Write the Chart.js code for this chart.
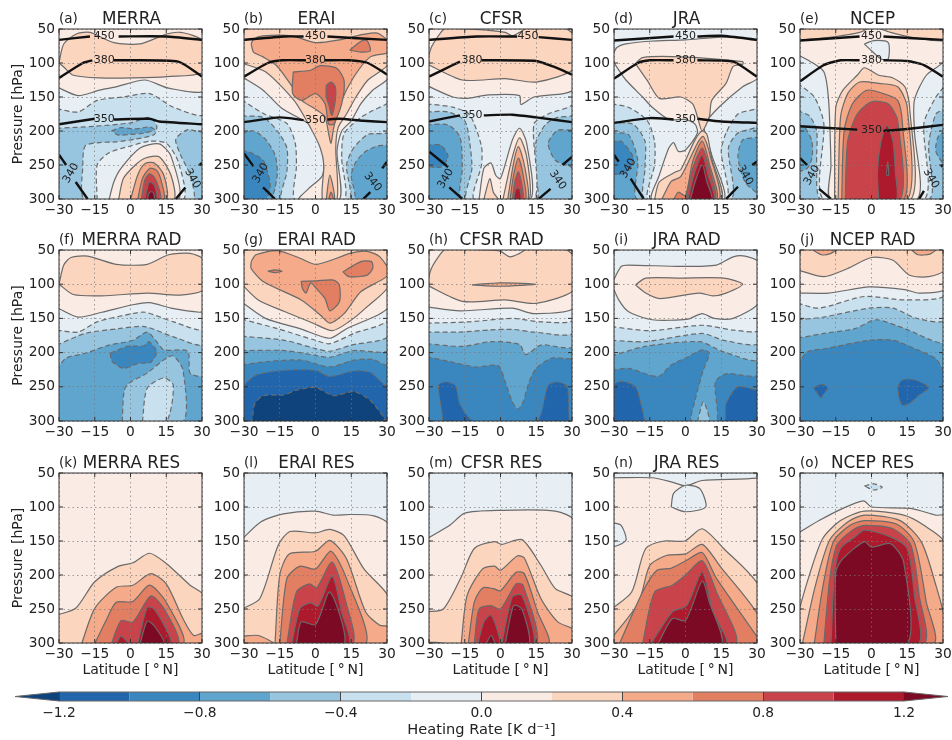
<!DOCTYPE html>
<html>
<head>
<meta charset="utf-8">
<script src="https://cdn.jsdelivr.net/npm/chart.js@4/dist/chart.umd.min.js"></script>
<style>
html, body { margin: 0; background: #fff; }
#page { position: relative; width: 952px; height: 740px; overflow: hidden; }
canvas { position: absolute; filter: blur(0.35px); }
</style>
</head>
<body>
<div id="page"></div>
<script>
// heating rate bands, lower edge of each band [K/d]
const bandLevels = [-1.4, -1.2, -1.0, -0.8, -0.6, -0.4, -0.2, 0, 0.2, 0.4, 0.6, 0.8, 1.0, 1.2];
const bandColors = ['#0f437b', '#2166ac', '#3a87bf', '#5fa5cd', '#97c5df', '#c9e0ee', '#e8eff4',
    '#faece4', '#fcd5bf', '#f5aa89', '#e27f63', '#c9444a', '#ae1a2d', '#7d0a25'];
const colorbarTicks = [-1.2, -0.8, -0.4, 0, 0.4, 0.8, 1.2];

const titles = ['MERRA', 'ERAI', 'CFSR', 'JRA', 'NCEP',
    'MERRA RAD', 'ERAI RAD', 'CFSR RAD', 'JRA RAD', 'NCEP RAD',
    'MERRA RES', 'ERAI RES', 'CFSR RES', 'JRA RES', 'NCEP RES'];
const tags = ['(a)', '(b)', '(c)', '(d)', '(e)', '(f)', '(g)', '(h)', '(i)', '(j)', '(k)', '(l)', '(m)', '(n)', '(o)'];

// band painted under everything else in each panel
const baseBands = [-0.6, -0.8, -0.8, -0.8, -0.6, -0.8, -1.4, -1.2, -1.2, -1.0, 0, -0.2, -0.2, 0, -0.2];

// contours: [level, [lat, hPa, lat, hPa, ...], hole]
// level = region above that contour, hole = region below it, painted in order
const merraDyn = [
    [-0.4, [-31,196, -15,193, 0,188, 8,180, 11,192, 10,205, 2,212, -6,216, -13,217, -19,222, -20,250, -19,301, 26,301, 25,265, 21,235, 19,212, 24,198, 31,200, 31,49, -31,49]],
    [-0.6, [-8,200, -4,195, 2,197, 8,194, 10,198, 6,203, 0,205, -5,206], 1],
    [-0.2, [-31,167, -22,172, -14,155, -3,150, 8,145, 18,165, 31,175, 31,49, -31,49]],
    [-0.2, [-14,301, -14,250, -9,232, 0,222, 8,215, 15,218, 20,245, 22,301]],
    [0, [-31,135, -22,148, -13,140, -6,135, 6,125, 16,137, 31,140, 31,49, -31,49]],
    [0, [-9,301, -7,275, -4,255, 4,225, 12,219, 17,237, 20,301]],
    [0.2, [-30,100, -28,72, -22.5,57, -17,55, -7,70, 4,72, 15.5,57, 21,55, 28,62, 31,70, 31,113, 15.5,120, 1,122, -13,122, -24,118, -28,106]],
    [0.2, [-5,301, -3,270, 2,250, 6,240, 12,238, 17,265, 18,301]],
    [0.4, [0,301, 3,265, 6,248, 10,247, 14,265, 15,301]],
    [0.6, [3,301, 5,270, 8,255, 11,258, 13,275, 14,301]],
    [0.8, [4.5,301, 6,272, 8,263, 10,268, 12,285, 12.5,301]],
    [1.0, [6,301, 7,285, 8,275, 10,280, 11,301]],
    [1.2, [7,301, 8,290, 9.5,290, 10,301]]
];
const eraiDyn = [
    [-0.8, [-31,228, -27,232, -22,243, -20,262, -19,280, -21,301, -31,301], 1],
    [-0.6, [-31,203, -26,200, -21,212, -17,235, -16,260, -17,285, -18,301, 16,301, 15,265, 17,245, 21,230, 26,222, 31,218, 31,49, -31,49]],
    [-0.4, [-31,178, -22,180, -16,200, -12,225, -12,260, -14,301, 14,301, 13,250, 16,225, 22,205, 31,200, 31,49, -31,49]],
    [-0.2, [-31,154, -22,174, -12,189, -8.5,218, -8,252, -8.5,301, 12,301, 11,240, 12,204, 19,180, 24,170, 31,155, 31,49, -31,49]],
    [0, [-31,120, -22,140, -14,167, -3,189, 1,206, 3,228, 3,265, -3,285, -7,301, 10,301, 9,230, 11,200, 15,185, 19,160, 24,140, 31,120, 31,49, -31,49]],
    [0.2, [-31,100, -21,113, -9,155, -2,196, 2,225, 3.5,250, 3,301, 9,301, 8.5,225, 9.5,195, 13,175, 17,150, 22,125, 31,100, 31,49, -31,49]],
    [0.4, [-27,72, -26,65, -22,60, -10,60, 0,70, 10,66, 20,58, 26,56, 31,70, 31,84, 23,91, 16,121, 10.4,160, 7.6,196, 6.5,218, 5.5,204, 4,179, 0.5,169, -5.8,155, -10.7,130, -16.3,104, -22,91, -26,84]],
    [0.4, [4.5,301, 6,265, 8,301]],
    [0.6, [5.5,301, 6.5,290, 7.5,301]],
    [0.6, [-9.3,113, -9.6,145, -5.8,155, 0,145, 4,160, 5.5,190, 7.6,190, 11,160, 12,126, 9,108, 2,104, -2.3,111]],
    [0.6, [14.4,81, 19.6,67, 21.7,67, 23,82, 19,84]],
    [0.8, [4.5,133, 6.5,128, 8.3,135, 8.3,155, 6.9,177, 5.5,160, 4.5,150]]
];
const cfsrDyn = [
    [-0.8, [-31,221, -25,221, -22,238, -25,253, -31,250], 1],
    [-0.6, [-31,191, -22,191, -17,209, -16,253, -16,301, 31,301, 31,257, 23,243, 20,218, 24,199, 31,196, 31,49, -31,49]],
    [-0.4, [-31,172, -22,172, -15,185, -13,215, -12,255, -14,301, 15,301, 14,250, 15,215, 19,190, 24,180, 31,175, 31,49, -31,49]],
    [-0.2, [-31,160, -20,165, -13,176, -8,222, -8,250, -11,301, 14,301, 14,190, 20,175, 31,158, 31,49, -31,49]],
    [0, [-31,133, -20,150, -14,152, -5,147, 8,148, 8.5,161, 14,150, 31,138, 31,49, -31,49]],
    [0, [-9,301, -7,255, -4,247, -2,265, 0,270, 5,213, 8,196, 11,218, 12.5,301]],
    [0.2, [-31,101, -29,77, -25,55, -23,49, -5,52, 2,55, 5,60, 8,55, 11,49, 27,49, 31,61, 31,108, 15,128, 2,123, -16,125]],
    [0.2, [-7,301, -4.5,270, -3,290, -1,301]],
    [0.2, [1,301, 5,238, 8,210, 11,238, 12,301]],
    [0.4, [3,301, 5.5,247, 7.5,223, 10,250, 11.5,301]],
    [0.6, [4,301, 5.5,265, 7.5,240, 9.5,265, 10.5,301]],
    [0.8, [5,301, 6,275, 7.5,260, 9,280, 9.5,301]],
    [1.0, [5.5,301, 6.5,285, 8,285, 8.5,301]]
];
const jraDyn = [
    [-0.8, [-31,216, -27,215, -22,238, -23,255, -27,263, -31,262], 1],
    [-0.6, [-31,203, -24,205, -20,243, -20,301, 31,301, 31,295, 25,275, 22,238, 24,213, 31,206, 31,49, -31,49]],
    [-0.4, [-31,188, -22,190, -17,215, -17,255, -17,301, 19,301, 18,225, 22,203, 31,190, 31,49, -31,49]],
    [-0.2, [-31,160, -24,165, -16,185, -13,215, -13,250, -15.5,301, 17,301, 15,230, 17,203, 22,175, 31,163, 31,49, -31,49]],
    [0, [-31,93, -29,78, -25,72, -15,68, 0,66, 15,62, 25,64, 31,68, 31,120, 24,135, 14,165, 8,190, 8,200, 11,235, 16,301, -14,301, -11,265, -7,225, -5,217, -3,230, 0,228, 5,203, 4,190, 0,183, -7,183, -14,165, -18,150, -25,125, -29,105]],
    [0.2, [-21,101, -18,92, -2,91, 24,98, 24,102, 20,105, 17,130, 11,155, 10,179, 7,200, 5,179, 3,160, -2,150, -11,152, -16,126]],
    [0.2, [-13,301, -11,275, -4,260, -2,257, 4,213, 7,200, 9,205, 11,240, 15,301]],
    [0.4, [-10,301, -6,274, -2,267, 5,218, 7.5,208, 10.5,238, 14,301]],
    [0.6, [-5,301, -3,290, 0,295, 3,245, 7,215, 10,248, 13,301]],
    [0.8, [0,301, 3,255, 7,225, 10,255, 12.5,301]],
    [1.0, [1,301, 3.5,265, 7,236, 9.5,265, 12,301]],
    [1.2, [2,301, 4,275, 7,250, 9,275, 11,301]]
];
const ncepDyn = [
    [-0.6, [-31,192, -28,195, -25,215, -25,240, -27,255, -31,258], 1],
    [-0.6, [31,200, 28,208, 27,230, 31,250], 1],
    [-0.4, [-31,170, -26,178, -23,200, -23,250, -21,301, 24,301, 24,220, 27,175, 31,165, 31,49, -31,49]],
    [-0.2, [-31,130, -24,150, -20,189, -20,301, 22,301, 22,189, 27,150, 31,130, 31,49, -31,49]],
    [0, [-31,88, -26,97, -20,113, -18,155, -17,250, -17,301, 19,301, 18,200, 18,155, 23,118, 31,95, 31,49, -31,49]],
    [0, [-3,72, 1,67, 7,70, 7,94, 4,94, 0,82], 1],
    [0.2, [-31,67, -15,61, -5,55, -2,49, -31,49]],
    [0.2, [3,49, 8,55, 18,63, 31,67, 31,49]],
    [0.2, [-15.5,301, -15,165, -12,140, -6,118, -3,107, 3,118, 9,122, 14,135, 16,165, 16.5,301]],
    [0.4, [-14,301, -13,180, -10,145, -5,128, 3,130, 11,135, 15,165, 15,301]],
    [0.6, [-12.5,301, -11.5,200, -8,160, -2,140, 5,145, 11,155, 13,190, 13.5,301]],
    [0.8, [-11,301, -10,215, -6,175, 0,157, 7,160, 11,185, 12,301]],
    [1.0, [3,301, 2.5,260, 4,215, 6.5,192, 9,215, 10,260, 10.5,301]],
    [1.2, [6.3,265, 6.8,245, 7.2,265]]
];
const merraRad = [
    [-0.8, [-8.5,201, -1.4,191, 5.6,190, 7.7,184, 11,199, 8.5,214, 3,216, -2.8,223, -7.7,213], 1],
    [-0.6, [-31,225, -27,208, -19,201, -9,189, 1,182, 7,170, 11,184, 14,196, 24,198, 25,230, 31,233, 31,49, -31,49]],
    [-0.6, [-3.5,301, -2,250, 7,230, 15,208, 18,205, 22,225, 22,301]],
    [-0.4, [-31,189, -19,172, -5,165, 6,162, 18,177, 31,187, 31,49, -31,49]],
    [-0.4, [5,301, 7,252, 14,237, 18,248, 15,301]],
    [-0.2, [-31,167, -22,170, -14,155, -2,145, 6,141, 18,155, 31,165, 31,49, -31,49]],
    [0, [-31,134, -22,148, -12,141, 1,130, 8,127, 17,135, 29,141, 31,138, 31,49, -31,49]],
    [0.2, [-30,100, -28,72, -25,61, -18,59, -6,71, 7,71, 16,57, 25,55, 31,65, 31,107, 21,116, 7,113, -12,117, -24,115]]
];
const eraiRad = [
    [-1.2, [-31,301, -27,301, -25.5,275, -22,263, -13.5,262, -8,255, 0,251, 7.6,263, 16,257, 23,270, 28.7,295, 29,301, 31,301, 31,49, -31,49]],
    [-1.0, [-31,250, -25,233, -13.5,226, 0,226, 6,235, 16,227, 23,229, 31,250, 31,49, -31,49]],
    [-0.8, [-31,218, -20,213, -6,211, 6,221, 16,211, 24,210, 31,218, 31,49, -31,49]],
    [-0.6, [-31,197, -13,197, 0,204, 6,207, 16,197, 31,195, 31,49, -31,49]],
    [-0.4, [-31,176, -13,182, 0,194, 6,198, 15,189, 31,174, 31,49, -31,49]],
    [-0.2, [-31,151, -16,165, 0,182, 6,187, 16,172, 31,150, 31,49, -31,49]],
    [0, [-31,126, -21,150, -6.5,165, 6,179, 13,165, 31,132, 31,49, -31,49]],
    [0.2, [-31,100, -24,123, -13,140, -1,157, 7,168, 14,155, 21,135, 31,101, 31,49, -31,49]],
    [0.4, [-27,67, -25,57, -16,51, -6.5,62, 0.5,71, 14.6,55, 21.7,52, 27,60, 31,85, 19,111, 12,143, 6,157, 2,145, -6,123, -22,96, -27,77]],
    [0.6, [-20,81, -17,79, -14,81, -17,83]],
    [0.6, [11.5,82, 19,67, 23.5,67, 24,77, 21.5,87, 14,89]],
    [0.6, [-6,96, 0.5,95, 7.6,94, 10,101, 10,126, 6,139, 4,121, 0,105, -2,98, -4,113, -5.5,106]]
];
const cfsrRad = [
    [-1.0, [-31,301, -24.5,301, -26,248, -23,243, -19,248, -17,276, -11,301, 15,301, 20,248, 24,243, 28,250, 29,301, 31,301, 31,49, -31,49]],
    [-0.8, [-31,206, -21.5,213, -10.4,221, -1,219, 2,243, 5,272, 7.3,283, 9.5,272, 12,243, 15,223, 21.5,208, 31,206, 31,49, -31,49]],
    [-0.6, [-31,187, -16,191, -4,184, 8,188, 10.5,203, 17,189, 31,190, 31,49, -31,49]],
    [-0.4, [-31,170, -17,170, -5,167, 5,166, 14,170, 31,170, 31,49, -31,49]],
    [-0.2, [-31,157, -13,155, 5,150, 17,155, 31,151, 31,49, -31,49]],
    [0, [-31,133, -17,139, 5,135, 14,143, 31,134, 31,49, -31,49]],
    [0.2, [-31,101, -29,77, -25,55, -23,49, -5,50, 0,52, 4,60, 8,55, 11,49, 27,49, 31,61, 31,108, 15,128, 2,123, -16,125]],
    [0.4, [-12,101, 0,98, 15,100, 0,103]]
];
const jraRad = [
    [-1.0, [-31,248, -27,242, -21,250, -18,285, -16.5,301, 16,301, 17,275, 22,250, 31,252, 31,49, -31,49]],
    [-0.8, [-31,226, -24,223, -11.5,235, -6,218, 0,208, 7,196, 10,201, 7.5,225, 4,270, 2.5,301, 13,301, 12.5,243, 17,231, 31,231, 31,49, -31,49]],
    [-0.6, [-31,205, -17,191, 6,184, 16,199, 31,209, 31,49, -31,49]],
    [-0.6, [5,301, 7.5,272, 10,301]],
    [-0.4, [-31,182, -17,184, 7,172, 16,182, 31,185, 31,49, -31,49]],
    [-0.2, [-31,162, -15,168, 7,160, 20,167, 31,166, 31,49, -31,49]],
    [0, [-31,100, -27,74, -24,72, -2,74, 13,72, 20,60, 25,59, 31,69, 31,126, 20,150, 12,150, 7,143, 1,151, -14,152, -24,140, -28,123]],
    [0.2, [-21,101, -16.7,91, -2,91, 16,91, 24,100, 17,113, 11.5,117, 5.6,113, -10.8,121, -16.7,113]]
];
const ncepRad = [
    [-1.0, [-24.3,252, -22,247, -20,247, -18.4,252, -20,260, -21.3,266, -23,258], 1],
    [-1.0, [11,251, 12,243, 14,239, 19,241, 24,251, 20,262, 16,274, 13,277, 11.5,265], 1],
    [-0.8, [-31,218, -27,199, -19,194, -1,182, 9,182, 19.4,196, 27,209, 31,228, 31,49, -31,49]],
    [-0.6, [-31,179, -20,172, -7,165, 2,152, 14,165, 31,184, 31,49, -31,49]],
    [-0.4, [-31,152, -20,148, -1,135, 9,135, 19,150, 31,152, 31,49, -31,49]],
    [-0.2, [-31,128, -22,135, -3,118, 14,123, 31,116, 31,49, -31,49]],
    [0, [-31,113, -18,113, -1,104, 14,108, 20,113, 31,107, 31,49, -31,49]],
    [0.2, [-31,79, -20,89, -10,77, 0,61, 9,65, 16,87, 24,89, 31,79, 31,49, -31,49]],
    [0.4, [-25,49, -21,57, -17,55, -15,49]],
    [0.4, [16.5,49, 19.5,57, 24.5,56, 27,49]]
];
const merraRes = [
    [0.2, [-31,259, -23,249, -15,210, -5,187, 1,182, 8,168, 15,183, 25,215, 31,231, 31,301, -31,301]],
    [0.4, [-20.5,301, -15,249, -6,218, 1,215, 8.5,198, 15,213, 22,264, 26.5,289, 31,285, 31,301]],
    [0.6, [-15,301, -10,265, -6,240, 1,239, 8,215, 15,240, 22,301]],
    [0.8, [-8,301, -4,267, 1,269, 8.5,231, 14,249, 20,301]],
    [1.0, [-6,301, -4,290, -1,301]],
    [1.0, [3,301, 7,248, 10,250, 17,301]],
    [1.2, [4,301, 7,268, 10,275, 14,301]]
];
const eraiRes = [
    [0, [-31,148, -23,122, -13.5,110, 0,106, 7.5,112, 14.6,111, 24.5,113, 31,127, 31,301, -31,301]],
    [0.2, [-31,250, -23.4,235, -15.6,156, -10.7,136, 0,138, 6,133, 12,142, 20.3,191, 31,234, 31,301, -31,301]],
    [0.4, [-31,290, -24,289, -17.5,301, -31,301]],
    [0.4, [-17,301, -15,200, -11,169, 0,165, 6,149, 13,176, 21,254, 27,274, 31,276, 31,301]],
    [0.6, [-15,301, -12,205, -6.5,187, 0,191, 6.5,165, 13,205, 21,301]],
    [0.8, [-12,301, -8,225, -2.5,213, 0.5,219, 7,181, 13,243, 15.5,301]],
    [1.0, [-10,301, -6.5,249, -2,241, 1,246, 7,202, 11,255, 14,301]],
    [1.2, [-8,301, -6,269, 0,273, 6,225, 12,301]]
];
const cfsrRes = [
    [0, [-31,147, -21,126, -15,109, -1,105, 23,106, 31,121, 31,301, -31,301]],
    [0.2, [-31,254, -24,250, -16.5,203, -11,161, -2.5,151, 0.5,155, 9,148, 17,186, 23,220, 31,235, 31,301, -31,301]],
    [0.4, [-31,299, -27,299, -23,301, -31,301]],
    [0.4, [-16.5,301, -14,230, -7.5,191, -2.5,187, 0,193, 7,172, 10,175, 17,235, 24,269, 31,281, 31,301]],
    [0.6, [-13.5,301, -11,240, -7.5,219, -3,220, 0,223, 6.5,196, 10,198, 15.5,254, 20,301]],
    [0.8, [-11,301, -9,250, -4,245, 0,250, 6.5,213, 9.5,215, 15,301]],
    [1.0, [-9.5,301, -7,269, -4,259, -1,285, -0.5,301]],
    [1.0, [0.5,301, 5,232, 9,230, 14,301]],
    [1.2, [-6,301, -4,289, -2.5,301]],
    [1.2, [2,301, 5.5,245, 9,250, 12,301]]
];
const jraRes = [
    [0, [-31,57, -14,57, -6,63, 0,69, 7,61, 31,57, 31,49, -31,49], 1],
    [0, [-6,100, -5,80, 0,68, 6,73, 8.5,100, 0,107], 1],
    [0, [-31,123, -27,127, -25,149, -31,158], 1],
    [0.2, [-31,250, -22.6,225, -16.7,161, -9,150, -0.3,150, 7,132, 16,161, 31,218, 31,301, -31,301]],
    [0.4, [-31,293, -19.6,240, -15,186, -7.8,171, 0,169, 7,155, 14.7,188, 31,262, 31,301, -31,301]],
    [0.6, [-27.7,301, -18,225, -12,193, -6,190, 0.7,178, 7,167, 13,205, 31,296, 31,301]],
    [0.8, [-18,301, -13,225, -5.5,215, 0,200, 7,179, 13,225, 21,301]],
    [1.0, [-14.5,301, -5.5,254, 0.5,245, 7,196, 11.5,254, 17,301]],
    [1.2, [-11.5,301, -5.5,264, 0,267, 7,209, 10,240, 15,301]]
];
const ncepRes = [
    [-0.2, [-3,69, 1,66, 4.5,71, 1,75], 1],
    [0, [-31,139, -22,120, -12,102, -3.3,91, 0,100, 16.4,102, 27,112, 31,113, 31,301, -31,301]],
    [0.2, [-31,259, -26.5,205, -20.6,147, -13,120, -3,106, 13.5,112, 22,127, 31,154, 31,301, -31,301]],
    [0.4, [-29,301, -23.5,215, -17.6,149, -10,122, -3,112, 12,120, 21,152, 27,215, 31,269, 31,301]],
    [0.6, [-24,301, -20.5,219, -16,151, -9,127, -3,120, 10.5,125, 18,152, 23,240, 26,301]],
    [0.8, [-20,301, -17.5,205, -14.5,156, -8,134, -3,127, 9,132, 16.5,156, 20,230, 22,301]],
    [1.0, [-17,301, -15.5,196, -13,161, -7,144, -3,134, 8,144, 15,161, 18,230, 19.5,301]],
    [1.2, [-15,301, -15,196, -12,176, -3,151, 0,159, 8,154, 13.5,181, 15,301]]
];
const panelContours = [merraDyn, eraiDyn, cfsrDyn, jraDyn, ncepDyn,
    merraRad, eraiRad, cfsrRad, jraRad, ncepRad,
    merraRes, eraiRes, cfsrRes, jraRes, ncepRes];

// potential temperature lines, broken where the label sits
const isenMerra = [[-30,66, -17,61], [-5,61, 15,61, 30,66], [-30,122, -20,100, -16,96], [-7,96, 20,98, 30,120],
    [-30,190, -15,182], [-7,183, 8,182, 12,186, 30,190], [-30,235, -27,250], [-23,275, -18,300], [19,300, 23,283], [29,250, 30,247]];
const isenErai = [[-30,66, -13,61, -5,61], [5,61, 30,66], [-30,120, -20,100, -14,96, -4,96], [4,96, 14,96, 22,100, 30,117],
    [-30,187, -15,180, -5,184], [5,183, 10,182, 20,185, 30,187], [-30,233, -26,252], [-22,283, -17,300], [20,300, 23,290], [28,255, 30,245]];
const isenCfsr = [[-30,66, -10,61, 7,61], [16,62, 30,66], [-30,120, -20,103, -17,98], [-8,96, 15,97, 22,105, 30,117],
    [-30,186, -17,177], [-7,177, 5,176, 15,180, 30,187], [-30,230, -22,253], [-21.5,283, -16,300], [16,300, 21,285], [26,250, 30,238]];
const isenJra = [[-30,67, -5,61], [5,61, 15,60, 30,66], [-30,123, -20,100, -15,96, -5,96], [5,96, 20,98, 30,120],
    [-30,188, -15,181, -5,183], [5,182, 15,186, 30,188], [-30,235, -28,245], [-23,270, -17.5,300], [17,300, 22,282], [28,250, 30,245]];
const isenNcep = [[-30,67, -5,61], [5,61, 30,66], [-30,127, -20,103, -13,96, -5,96], [5,96, 15,97, 22,103, 30,120],
    [-30,193, -6,198], [5,200, 15,197, 30,191], [-30,240, -27,250], [-22,285, -17,300], [20,300, 22,288], [29,252, 30,250]];
const panelIsentropes = [isenMerra, isenErai, isenCfsr, isenJra, isenNcep];

// isentrope labels: [text, lat, hPa, rotation deg]
const labelsMerra = [['450',-11,61,0], ['380',-11,96,0], ['350',-11,182,0], ['340',-25,262,-60], ['340',26,270,60]];
const labelsErai = [['450',0,61,0], ['380',0,96,0], ['350',0,184,0], ['340',-23,262,-60], ['340',24,275,50]];
const labelsCfsr = [['450',11.5,61,0], ['380',-12,96,0], ['350',-12,177,0], ['340',-23,270,-60], ['340',24,272,55]];
const labelsJra = [['450',0,61,0], ['380',0,96,0], ['350',0,182,0], ['340',-24,255,-60], ['340',25,265,60]];
const labelsNcep = [['450',0,61,0], ['380',0,96,0], ['350',0,199,0], ['340',-25,265,-60], ['340',25,270,60]];
const panelLabels = [labelsMerra, labelsErai, labelsCfsr, labelsJra, labelsNcep];

const colLefts = [59, 244, 429, 614, 800];
const rowTops = [29, 250, 473];
const rowHeights = [170, 171, 170];
const fontName = '"DejaVu Sans", sans-serif';
Chart.defaults.font.family = fontName;
Chart.defaults.color = '#222';
Chart.defaults.animation = false;

function bandColor(level) {
    let i = bandLevels.findIndex(b => Math.abs(b - level) < 0.01);
    return bandColors[i];
}

function toPoints(flat) {
    let pts = [];
    for (let i = 0; i < flat.length; i += 2) pts.push({x: flat[i], y: flat[i + 1]});
    return pts;
}

function contourDataset(level, flat, hole) {
    let pts = toPoints(flat);
    pts.push(pts[0]);
    return {
        data: pts,
        showLine: true,
        fill: 'shape',
        tension: 0.25,
        backgroundColor: bandColor(hole ? level - 0.2 : level),
        borderColor: '#6a6a6a',
        borderWidth: 1.2,
        borderDash: level < 0 ? [5, 3] : [],
        pointRadius: 0
    };
}

function minusSign(v) {
    return String(v).replace('-', '\u2212');
}

// frame, inward ticks, title, panel tag and isentrope labels
const panelDecor = {
    id: 'panelDecor',
    afterDraw(chart, args, opts) {
        const {ctx, chartArea: a, scales} = chart;
        ctx.save();
        ctx.strokeStyle = '#333';
        ctx.lineWidth = 1;
        ctx.strokeRect(a.left, a.top, a.width, a.height);
        ctx.beginPath();
        scales.x.ticks.forEach(t => {
            let px = scales.x.getPixelForValue(t.value);
            ctx.moveTo(px, a.bottom); ctx.lineTo(px, a.bottom - 4);
            ctx.moveTo(px, a.top); ctx.lineTo(px, a.top + 4);
        });
        scales.y.ticks.forEach(t => {
            let py = scales.y.getPixelForValue(t.value);
            ctx.moveTo(a.left, py); ctx.lineTo(a.left + 4, py);
            ctx.moveTo(a.right, py); ctx.lineTo(a.right - 4, py);
        });
        ctx.stroke();

        ctx.fillStyle = '#222';
        ctx.textBaseline = 'alphabetic';
        ctx.textAlign = 'center';
        ctx.font = '16.8px ' + fontName;
        ctx.fillText(opts.title, (a.left + a.right) / 2 + 1, a.top - 5);
        ctx.textAlign = 'left';
        ctx.font = '13.5px ' + fontName;
        ctx.fillText(opts.tag, a.left, a.top - 6);

        ctx.font = '11px ' + fontName;
        ctx.textAlign = 'center';
        ctx.textBaseline = 'middle';
        opts.labels.forEach(l => {
            ctx.save();
            ctx.translate(scales.x.getPixelForValue(l[1]), scales.y.getPixelForValue(l[2]));
            ctx.rotate(l[3] * Math.PI / 180);
            ctx.fillText(l[0], 0, 0);
            ctx.restore();
        });
        ctx.restore();
    }
};

function addCanvas(left, top, w, h) {
    let c = document.createElement('canvas');
    c.width = w;
    c.height = h;
    c.style.left = left + 'px';
    c.style.top = top + 'px';
    document.getElementById('page').appendChild(c);
    return c.getContext('2d');
}

function drawPanel(idx) {
    const col = idx % 5, row = Math.floor(idx / 5);
    const datasets = [contourDataset(baseBands[idx], [-31,49, 31,49, 31,301, -31,301])];
    datasets[0].borderWidth = 0;
    datasets[0].tension = 0;
    panelContours[idx].forEach(c => datasets.push(contourDataset(c[0], c[1], c[2])));
    (panelIsentropes[idx] || []).forEach(line => datasets.push({
        data: toPoints(line),
        showLine: true,
        fill: false,
        tension: 0.2,
        borderColor: '#111',
        borderWidth: 2.4,
        pointRadius: 0
    }));
    // first dataset is painted last by default, so count the order down
    datasets.forEach((d, i) => { d.order = datasets.length - i; });

    const ctx = addCanvas(colLefts[col] - 59, rowTops[row] - 29, 59 + 143 + 22, 29 + rowHeights[row] + 50);
    new Chart(ctx, {
        type: 'scatter',
        data: {datasets},
        plugins: [panelDecor],
        options: {
            responsive: false,
            layout: {padding: {top: 29, right: 22, left: 0, bottom: 0}},
            plugins: {
                legend: {display: false},
                tooltip: {enabled: false},
                panelDecor: {title: titles[idx], tag: tags[idx], labels: panelLabels[idx] || []}
            },
            scales: {
                x: {
                    type: 'linear', min: -30, max: 30,
                    afterFit(s) { s.height = 50; },
                    ticks: {stepSize: 15, maxRotation: 0, padding: 3, font: {size: 13.8}, callback: minusSign},
                    grid: {z: 1, color: 'rgba(120,120,120,0.7)', drawTicks: false},
                    border: {display: false, dash: [1.5, 3]},
                    title: {display: row === 2, text: 'Latitude [\u2009\u00b0\u2009N]', font: {size: 14}, padding: {top: 14, bottom: 14}}
                },
                y: {
                    type: 'linear', reverse: true, min: 50, max: 300,
                    afterFit(s) { s.width = 59; },
                    ticks: {stepSize: 50, padding: 4, font: {size: 13.8}},
                    grid: {z: 1, color: 'rgba(120,120,120,0.7)', drawTicks: false},
                    border: {display: false, dash: [1.5, 3]},
                    title: {display: col === 0, text: 'Pressure [hPa]', font: {size: 14}, padding: {top: 10, bottom: 10}}
                }
            }
        }
    });
}

function drawColorbar() {
    const datasets = [];
    const tip = 1.325;
    bandLevels.forEach((lo, i) => {
        let flat;
        if (i === 0) flat = [-tip, 0.5, -1.2, 1, -1.2, 0];
        else if (i === bandLevels.length - 1) flat = [1.2, 0, 1.2, 1, tip, 0.5];
        else flat = [lo, 0, lo + 0.2, 0, lo + 0.2, 1, lo, 1];
        let pts = toPoints(flat);
        pts.push(pts[0]);
        datasets.push({data: pts, showLine: true, fill: 'shape', backgroundColor: bandColors[i],
            borderWidth: 0, pointRadius: 0, clip: 2, order: 2});
    });
    // outline of the bar and its two end arrows
    let outline = toPoints([-tip,0.5, -1.2,1, 1.2,1, tip,0.5, 1.2,0, -1.2,0]);
    outline.push(outline[0]);
    datasets.push({data: outline, showLine: true, fill: false, borderColor: '#666', borderWidth: 1,
        pointRadius: 0, clip: 2, order: 1});
    const ctx = addCanvas(0, 680, 952, 60);
    new Chart(ctx, {
        type: 'scatter',
        data: {datasets},
        options: {
            responsive: false,
            layout: {padding: {top: 12, left: 15, right: 4, bottom: 0}},
            plugins: {legend: {display: false}, tooltip: {enabled: false}},
            scales: {
                x: {
                    type: 'linear', min: -tip, max: tip,
                    afterBuildTicks(s) { s.ticks = colorbarTicks.map(v => ({value: v})); },
                    afterFit(s) { s.height = 39; },
                    ticks: {maxRotation: 0, padding: 4, font: {size: 13.8}, callback: v => minusSign(v.toFixed(1))},
                    grid: {z: 1, color: '#444', drawTicks: false},
                    border: {display: false},
                    title: {display: true, text: 'Heating Rate [K d\u207b\u00b9]', font: {size: 14.6}, padding: {top: 1, bottom: 1}}
                },
                y: {display: false, min: 0, max: 1}
            }
        }
    });
}

titles.forEach((t, i) => drawPanel(i));
drawColorbar();
</script>
</body>
</html>
